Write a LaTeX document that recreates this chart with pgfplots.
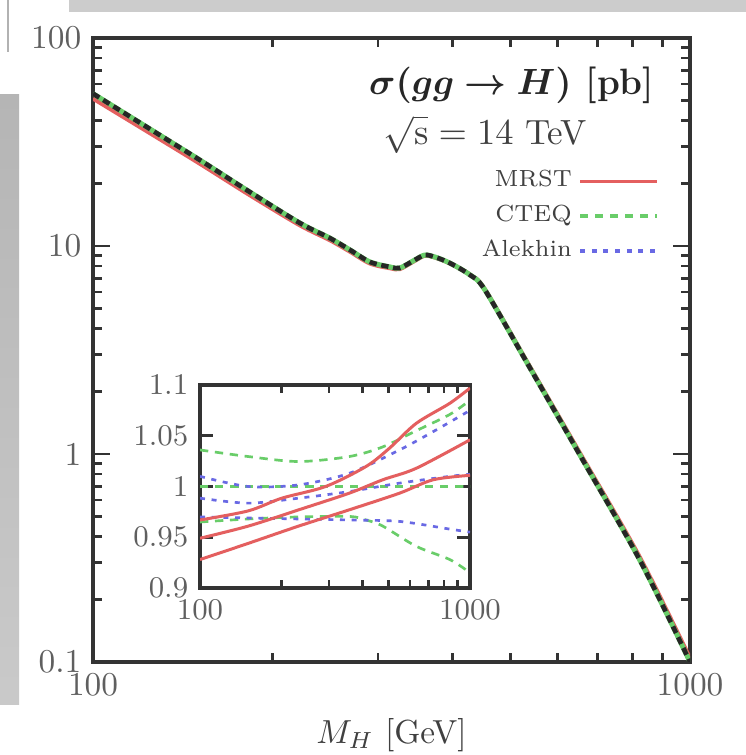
\documentclass[border=0pt]{standalone}
\usepackage{pgfplots}
\pgfplotsset{compat=1.18}
\usepackage{pgfplotstable}
\usepackage{bm}
\definecolor{mrst}{RGB}{228,95,95}
\definecolor{cteq}{RGB}{105,205,105}
\definecolor{alek}{RGB}{105,105,228}
\definecolor{ticklab}{RGB}{95,95,95}
\pgfplotsset{
  longline legend/.style={legend image code/.code={\draw[##1] (0pt,0pt) -- (23pt,0pt);}},
}

\pgfplotstableread{
x y
100 54
124.6 36.5
151 25.9
183 18.2
222 12.9
249.5 10.9
269.5 9.57
291 8.38
314.5 7.93
326.6 7.84
346 8.57
359.6 9.05
374 8.85
396 8.28
428 7.26
453.5 6.14
539.5 2.59
654 0.989
824 0.309
1000 0.1
}\cteqmain

\pgfplotstableread{
x y
100 51.2
124.6 34.9
151 24.9
183 17.6
222 12.6
249.5 10.67
269.5 9.40
291 8.25
314.5 7.83
326.6 7.76
346 8.50
359.6 8.99
374 8.81
396 8.26
428 7.27
453.5 6.17
539.5 2.62
654 1.009
824 0.318
1000 0.104
}\mrstmain

\pgfplotstableread{
x y
100 0.967
151 0.976
201 0.9885
292 1.0
412 1.0197
503 1.0377
633 1.0623
842 1.082
1000 1.097
}\mrstup
\pgfplotstableread{
x y
100 0.949
151 0.961
232 0.977
357 0.9934
475 1.0066
633 1.018
1000 1.046
}\mrstmid
\pgfplotstableread{
x y
100 0.928
151 0.944
232 0.961
357 0.977
548 0.9934
730 1.0066
1000 1.011
}\mrstlo
\pgfplotstableread{
x y
100 1.036
151 1.0295
232 1.0246
357 1.0295
475 1.039
633 1.055
842 1.071
1000 1.085
}\ctequp
\pgfplotstableread{
x y
100 1.0
1000 1.0
}\cteqmid
\pgfplotstableread{
x y
100 0.965
151 0.968
232 0.970
357 0.9705
412 0.967
475 0.961
633 0.941
842 0.928
1000 0.915
}\cteqlo
\pgfplotstableread{
x y
100 1.01
151 1.0
232 1.0016
357 1.013
548 1.036
730 1.054
1000 1.075
}\alekup
\pgfplotstableread{
x y
100 0.9885
151 0.9836
232 0.9885
357 0.995
548 1.0033
842 1.01
1000 1.012
}\alekmid
\pgfplotstableread{
x y
100 0.970
232 0.968
357 0.967
548 0.9656
842 0.958
1000 0.955
}\aleklo

\begin{document}
\begin{tikzpicture}
\fill[white] (0pt,0pt) rectangle (223.8pt,226.5pt);
\path[use as bounding box] (0pt,0pt) rectangle (223.8pt,226.5pt);
\fill[gray!40] (20.7pt,222.9pt) rectangle (223.8pt,226.5pt);
\shade[top color=gray!58, bottom color=gray!42] (0pt,15pt) rectangle (5.7pt,198pt);
\draw[gray!60, line width=0.8pt] (2.4pt,211pt) -- (2.4pt,226.5pt);

\begin{axis}[
  at={(27.9pt,27.9pt)}, anchor=south west,
  scale only axis, width=179.1pt, height=187.2pt,
  xmode=log, ymode=log,
  xmin=100, xmax=1000, ymin=0.1, ymax=100,
  xtick={100,1000}, xticklabels={100,1000},
  ytick={0.1,1,10,100}, yticklabels={0.1,1,10,100},
  minor xtick={200,300,400,500,600,700,800,900},
  minor ytick={0.2,0.3,0.4,0.5,0.6,0.7,0.8,0.9,2,3,4,5,6,7,8,9,20,30,40,50,60,70,80,90},
  tick align=inside,
  major tick length=5pt, minor tick length=2.6pt,
  tick style={black!80, line width=0.8pt},
  axis line style={black!80, line width=1.1pt},
  tick label style={text=ticklab},
  xlabel={$M_H$ [GeV]},
  xlabel style={at={(axis description cs:0.5,-0.117)}, anchor=center, text=black!75},
  legend style={at={(0.965,0.81)}, anchor=north east, draw=none, fill=none,
    font=\scriptsize, text=black!75},
  legend cell align=right,
  legend plot pos=right,
  longline legend,
]
\addplot[mrst, line width=1.3pt, smooth, tension=0.5, forget plot] table {\mrstmain};
\addplot[cteq, line width=1.5pt, smooth, tension=0.5, forget plot] table {\cteqmain};
\addplot[black!85, line width=1.4pt, dash pattern=on 2.2pt off 1.4pt, smooth, tension=0.5, forget plot] table {\cteqmain};
\addlegendimage{mrst, line width=1pt}
\addlegendentry{MRST}
\addlegendimage{cteq, line width=1pt, dash pattern=on 2.5pt off 2pt}
\addlegendentry{CTEQ}
\addlegendimage{alek, line width=1pt, dash pattern=on 1.5pt off 2pt}
\addlegendentry{Alekhin}
\end{axis}

\node[anchor=east, inner sep=0pt, text=black!85, font=\fontsize{11}{13}\selectfont\bfseries] at (196.5pt,200.8pt) {$\bm{\sigma(gg\to H)}$ {[}pb{]}};
\node[anchor=west, inner sep=0pt, text=black!75, font=\fontsize{10.5}{12}\selectfont] at (114.9pt,186.2pt) {$\sqrt{\mathrm{s}}=14$\ TeV};

\begin{axis}[
  at={(60pt,50.1pt)}, anchor=south west,
  scale only axis, width=81pt, height=60.9pt,
  xmode=log,
  xmin=100, xmax=1000, ymin=0.9, ymax=1.1,
  xtick={100,1000}, xticklabels={100,1000},
  ytick={0.9,0.95,1,1.05,1.1}, yticklabels={0.9,0.95,1,1.05,1.1},
  minor xtick={200,300,400,500,600,700,800,900},
  tick align=inside,
  major tick length=4pt, minor tick length=2.5pt,
  tick style={black!80, line width=0.8pt},
  axis line style={black!80, line width=1.1pt},
  tick label style={text=ticklab, font=\small},
  axis background/.style={fill=white},
]
\addplot[cteq, line width=0.8pt, dash pattern=on 2.5pt off 2pt, smooth] table {\ctequp};
\addplot[cteq, line width=0.8pt, dash pattern=on 2.5pt off 2pt, smooth] table {\cteqmid};
\addplot[cteq, line width=0.8pt, dash pattern=on 2.5pt off 2pt, smooth] table {\cteqlo};
\addplot[alek, line width=0.8pt, dash pattern=on 1.5pt off 2pt, smooth] table {\alekup};
\addplot[alek, line width=0.8pt, dash pattern=on 1.5pt off 2pt, smooth] table {\alekmid};
\addplot[alek, line width=0.8pt, dash pattern=on 1.5pt off 2pt, smooth] table {\aleklo};
\addplot[mrst, line width=0.9pt, smooth] table {\mrstup};
\addplot[mrst, line width=0.9pt, smooth] table {\mrstmid};
\addplot[mrst, line width=0.9pt, smooth] table {\mrstlo};
\end{axis}
\end{tikzpicture}
\end{document}
